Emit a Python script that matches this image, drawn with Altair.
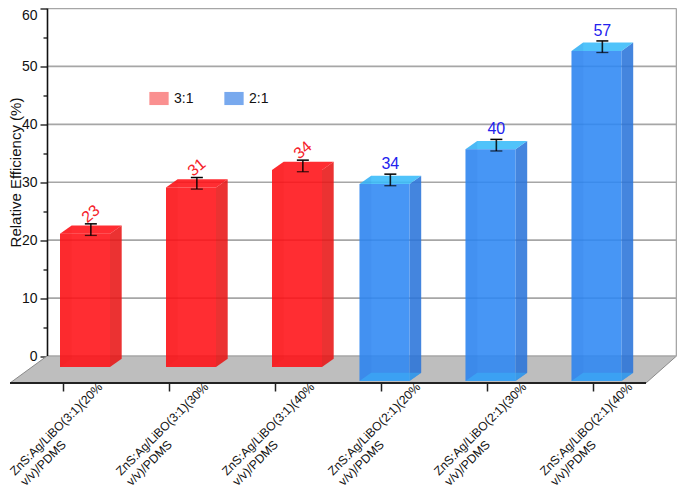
import altair as alt
import pandas as pd

# ---- values ----
categories = ["ZnS:Ag/LiBO(3:1)(20%\nv/v)/PDMS", "ZnS:Ag/LiBO(3:1)(30%\nv/v)/PDMS", "ZnS:Ag/LiBO(3:1)(40%\nv/v)/PDMS",
              "ZnS:Ag/LiBO(2:1)(20%\nv/v)/PDMS", "ZnS:Ag/LiBO(2:1)(30%\nv/v)/PDMS", "ZnS:Ag/LiBO(2:1)(40%\nv/v)/PDMS"]
series = ["3:1", "3:1", "3:1", "2:1", "2:1", "2:1"]
values = [23, 31, 34, 34, 40, 57]
errors = [1.0, 1.0, 1.0, 1.0, 1.0, 1.0]
labels = ["23", "31", "34", "34", "40", "57"]
legend_names = ["3:1", "2:1"]
y_ticks = [0, 5, 10, 15, 20, 25, 30, 35, 40, 45, 50, 55, 60]
grid_values = [0, 10, 20, 30, 40, 50, 60]

FONT = "Liberation Sans"

# ---- oblique projection of the 3D plot (page pixels -> scale units) ----
K = 347.5 / 60
SPACING = 106.0
RIGHT = 676.5
def px(p):  # horizontal pixels to category units
    return p / SPACING
def vy(p):  # vertical pixels to value units
    return p / K
X0 = 63.0  # first tick, page px
x_at = lambda page: (page - X0) / SPACING
XS = alt.Scale(domain=[x_at(10), x_at(676)], range=[0, 666], nice=False, zero=False)
YS = alt.Scale(domain=[-27 / K, 60], range=[374.5, 0], nice=False, zero=False)

X_AXIS = alt.Axis(values=list(range(len(categories))), labels=False, grid=False, domain=False,
                  tickSize=8, tickWidth=1.5, tickColor="#222222", title=None)
Y_AXIS = alt.Axis(values=y_ticks, grid=False, domain=False, offset=-37, tickColor="#111111", tickWidth=1.3,
                  tickSize={"condition": {"test": "datum.value % 10 === 0", "value": 7}, "value": 4},
                  labelExpr="datum.value % 10 === 0 ? datum.label : ''", labelFlush=True,
                  labelFont=FONT, labelFontSize=14, labelColor="#111111", labelPadding=3,
                  title="Relative Efficiency (%)",
                  titleFont=FONT, titleFontSize=15, titleFontWeight="normal", titleColor="#111111",
                  titleX=-24, titleY=163.5)
def X(f): return alt.X(f, type="quantitative", scale=XS, axis=X_AXIS)
def Y(f): return alt.Y(f, type="quantitative", scale=YS, axis=Y_AXIS, stack=None)

DX, DY, W = px(11.7), vy(8.3), px(50)
SET = {"3:1": dict(shift=px(-3), base=vy(-11), front="#FF1016", side="#E81616", top="#FF1016",
                   bottom="#FF1016", band=0.0),
       "2:1": dict(shift=px(-21.5), base=vy(-25), front="#2D88F4", side="#2A74D9", top="#38BBF9",
                   bottom="#38B0F8", band=0.55)}
ALPHA = 0.88

rects, sides, caps = [], [], []
for i, (s, v) in enumerate(zip(series, values)):
    p = SET[s]
    L, R, b, t = i + p["shift"], i + p["shift"] + W, p["base"], p["base"] + v
    rects.append(dict(bar=i, s=s, x=L, x2=R, y=b, y2=t))
    for face, a in (("left", L), ("right", R)):
        sides.append(dict(bar=i, s=s, face=face, x=a, y=b, y2=t))
        sides.append(dict(bar=i, s=s, face=face, x=a + DX, y=b + DY, y2=t + DY))
    for face, a in (("bottom", b), ("top", t)):
        caps.append(dict(bar=i, s=s, face=face, y=a, x=L, x2=R))
        caps.append(dict(bar=i, s=s, face=face, y=a + DY, x=L + DX, x2=R + DX))
rects, sides, caps = map(pd.DataFrame, (rects, sides, caps))

def faces(s):
    c = SET[s]
    out = []
    left = sides[(sides.s == s) & (sides.face == "left")]
    right = sides[(sides.s == s) & (sides.face == "right")]
    bot = caps[(caps.s == s) & (caps.face == "bottom")]
    top = caps[(caps.s == s) & (caps.face == "top")]
    out.append(alt.Chart(right).mark_area(color=c["side"], opacity=ALPHA, orient="vertical")
               .encode(x=X("x"), y=Y("y"), y2="y2", detail="bar:N"))
    out.append(alt.Chart(top).mark_area(color=c["top"], opacity=ALPHA, orient="horizontal")
               .encode(y=Y("y"), x=X("x"), x2="x2", detail="bar:N"))
    out.append(alt.Chart(rects[rects.s == s]).mark_rect(color=c["front"], opacity=ALPHA)
               .encode(x=X("x"), x2="x2", y=Y("y"), y2="y2"))
    out.append(alt.Chart(left).mark_area(color=c["side"], opacity=0.12, orient="vertical")
               .encode(x=X("x"), y=Y("y"), y2="y2", detail="bar:N"))
    if c["band"]:
        out.append(alt.Chart(bot).mark_area(color=c["bottom"], opacity=c["band"], orient="horizontal")
                   .encode(y=Y("y"), x=X("x"), x2="x2", detail="bar:N"))
    return out

# floor and walls
floor = pd.DataFrame([dict(y=-27 / K, x=x_at(10), x2=x_at(646)), dict(y=0, x=x_at(47), x2=x_at(RIGHT))])
floor_l = alt.Chart(floor).mark_area(color="#BEBEBE", orient="horizontal").encode(y=Y("y"), x=X("x"), x2="x2")
edges = pd.DataFrame([dict(e="l", x=x_at(10), y=-27 / K), dict(e="l", x=x_at(47), y=0),
                      dict(e="r", x=x_at(646), y=-27 / K), dict(e="r", x=x_at(RIGHT), y=0)])
edge_l = alt.Chart(edges).mark_line(color="#8A8A8A", strokeWidth=1).encode(x=X("x"), y=Y("y"), detail="e:N")

grid = pd.DataFrame({"v": grid_values, "x": x_at(47), "x2": x_at(RIGHT)})
grid_l = alt.Chart(grid).mark_rule(color="#A6A6A6", strokeWidth=1.6).encode(y=Y("v"), x=X("x"), x2="x2")
wall = pd.DataFrame({"x": [x_at(RIGHT)], "y": [0], "y2": [60]})
wall_l = alt.Chart(wall).mark_rule(color="#A6A6A6", strokeWidth=1.6).encode(x=X("x"), y=Y("y"), y2="y2")
yline = pd.DataFrame({"x": [x_at(47.5)], "y": [0], "y2": [60]})
yline_l = alt.Chart(yline).mark_rule(color="#111111", strokeWidth=1.6).encode(x=X("x"), y=Y("y"), y2="y2")
xline = pd.DataFrame({"x": [x_at(10)], "x2": [x_at(646)], "y": [-27 / K]})
xline_l = alt.Chart(xline).mark_rule(color="#222222", strokeWidth=1.8).encode(y=Y("y"), x=X("x"), x2="x2")

# error bars
tb = [i + SET[s]["shift"] + W / 2 + DX / 2 for i, s in enumerate(series)]
mid = [SET[s]["base"] + v + DY / 2 for s, v in zip(series, values)]
err = pd.DataFrame({"x": tb, "lo": [m - e for m, e in zip(mid, errors)], "hi": [m + e for m, e in zip(mid, errors)],
                    "xa": [t - px(6) for t in tb], "xb": [t + px(6) for t in tb]})
stem = alt.Chart(err).mark_rule(color="#000000", strokeWidth=1.6, opacity=0.85).encode(x=X("x"), y=Y("lo"), y2="hi")
cap_h = alt.Chart(err).mark_rule(color="#000000", strokeWidth=1.5).encode(y=Y("hi"), x=X("xa"), x2="xb")
cap_l = alt.Chart(err).mark_rule(color="#000000", strokeWidth=1.3, opacity=0.7).encode(y=Y("lo"), x=X("xa"), x2="xb")

# value labels
txt = pd.DataFrame({"x": tb, "y": [m + e for m, e in zip(mid, errors)], "t": labels, "s": series})
red_t = alt.Chart(txt[txt.s == "3:1"]).mark_text(font=FONT, fontSize=16, color="#F5222A", angle=320, dx=6.4, dy=-7.7,
                                                 baseline="middle") \
    .encode(x=X("x"), y=Y("y"), text="t:N")
blue_t = alt.Chart(txt[txt.s == "2:1"]).mark_text(font=FONT, fontSize=16, color="#2222EE", dy=-10, baseline="middle") \
    .encode(x=X("x"), y=Y("y"), text="t:N")

# category labels
cat = pd.DataFrame({"x": [i + px(-48) for i in range(len(categories))], "y": vy(356 - 476), "t": categories})
cat_l = alt.Chart(cat).mark_text(font=FONT, fontSize=12.2, color="#111111", angle=315, align="left",
                                 baseline="alphabetic", lineBreak="\n", lineHeight=15) \
    .encode(x=X("x"), y=Y("y"), text="t:N")

# legend (its symbols come from this layer, whose points lie outside the picture)
SWATCH = "M-1,-0.68H1V0.68H-1Z"
leg = pd.DataFrame({"n": legend_names, "x": [x_at(-200)] * 2, "y": [0, 0]})
leg_l = alt.Chart(leg).mark_point(filled=True, opacity=1).encode(
    x=X("x"), y=Y("y"),
    color=alt.Color("n:N", scale=alt.Scale(domain=legend_names, range=["#FA9090", "#78A9EE"]),
                    legend=alt.Legend(orient="none", legendX=139, legendY=80, direction="horizontal", title=None,
                                      columns=2, columnPadding=30, symbolType=SWATCH, symbolSize=372,
                                      symbolOpacity=1, symbolStrokeWidth=0, labelFont=FONT, labelFontSize=14,
                                      labelColor="#111111", labelOffset=5)))

layers = [floor_l, edge_l, grid_l, wall_l, yline_l, xline_l] + faces("3:1") + faces("2:1") + \
         [stem, cap_h, cap_l, red_t, blue_t, cat_l, leg_l]
chart = alt.layer(*layers).properties(
    width=666, height=374.5, autosize=alt.AutoSizeParams(type="none"),
    padding={"left": 2, "top": 0.5, "right": 1, "bottom": 105},
).configure_view(stroke=None)
chart.save("out.html", embed_options={"renderer": "svg", "actions": False})
